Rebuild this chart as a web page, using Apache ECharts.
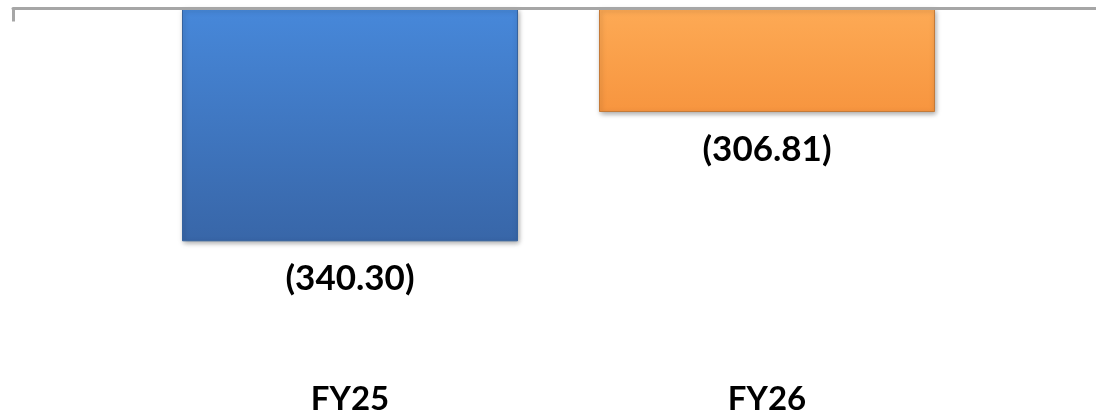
<!DOCTYPE html>
<html>
<head>
<meta charset="utf-8">
<script src="https://cdn.jsdelivr.net/npm/echarts@6/dist/echarts.min.js"></script>
<style>
html,body{margin:0;padding:0;background:#fff;}
#chart{width:1096px;height:419px;}
</style>
</head>
<body>
<div id="chart"></div>
<script>
var categories = ['FY25', 'FY26'];
var values = [-340.30, -306.81];
var barColors = [
  ['#4788da', '#3866a8'],
  ['#fdaa55', '#f7953f']
];
var borderColors = ['#35629e', '#c47a38'];

var chart = echarts.init(document.getElementById('chart'));
var FONT = 'Lato, "Open Sans", sans-serif';

var data = values.map(function (v, i) {
  return {
    value: v,
    itemStyle: {
      color: new echarts.graphic.LinearGradient(0, 0, 0, 1, [
        { offset: 0, color: barColors[i][0] },
        { offset: 1, color: barColors[i][1] }
      ]),
      borderColor: borderColors[i],
      borderWidth: 1,
      shadowColor: 'rgba(0,0,0,0.35)',
      shadowBlur: 5,
      shadowOffsetX: 1,
      shadowOffsetY: 2
    }
  };
});

chart.setOption({
  animation: false,
  grid: [
    { left: 141.5, right: 120.5, top: 8.5, bottom: 63 },
    { left: 13, right: 0, top: 8.5, bottom: 63 }
  ],
  xAxis: [
    {
      type: 'category',
      gridIndex: 0,
      position: 'bottom',
      data: categories,
      axisLine: { show: false },
      axisTick: { show: false },
      axisLabel: {
        margin: 27,
        color: '#000',
        fontFamily: FONT,
        fontWeight: 'bold',
        fontSize: 33
      }
    },
    {
      type: 'value',
      gridIndex: 1,
      position: 'top',
      z: 5,
      min: 0,
      max: 1,
      interval: 1,
      axisLine: { show: true, onZero: false, lineStyle: { color: '#a6a6a6', width: 3 } },
      axisTick: { show: true, inside: true, length: 13, customValues: [0], lineStyle: { color: '#a6a6a6', width: 3 } },
      axisLabel: { show: false },
      splitLine: { show: false }
    }
  ],
  yAxis: [
    { type: 'value', gridIndex: 0, min: -370, max: -280, show: false, splitLine: { show: false } },
    { type: 'value', gridIndex: 1, min: 0, max: 1, show: false, splitLine: { show: false } }
  ],
  series: [
    {
      type: 'bar',
      xAxisIndex: 0,
      yAxisIndex: 0,
      barWidth: 336,
      clip: true,
      data: data,
      label: {
        show: true,
        position: 'bottom',
        distance: 20,
        color: '#000',
        fontFamily: FONT,
        fontWeight: 'bold',
        fontSize: 35,
        formatter: function (p) {
          return '(' + Math.abs(p.value).toFixed(2) + ')';
        }
      }
    }
  ]
});
</script>
</body>
</html>
